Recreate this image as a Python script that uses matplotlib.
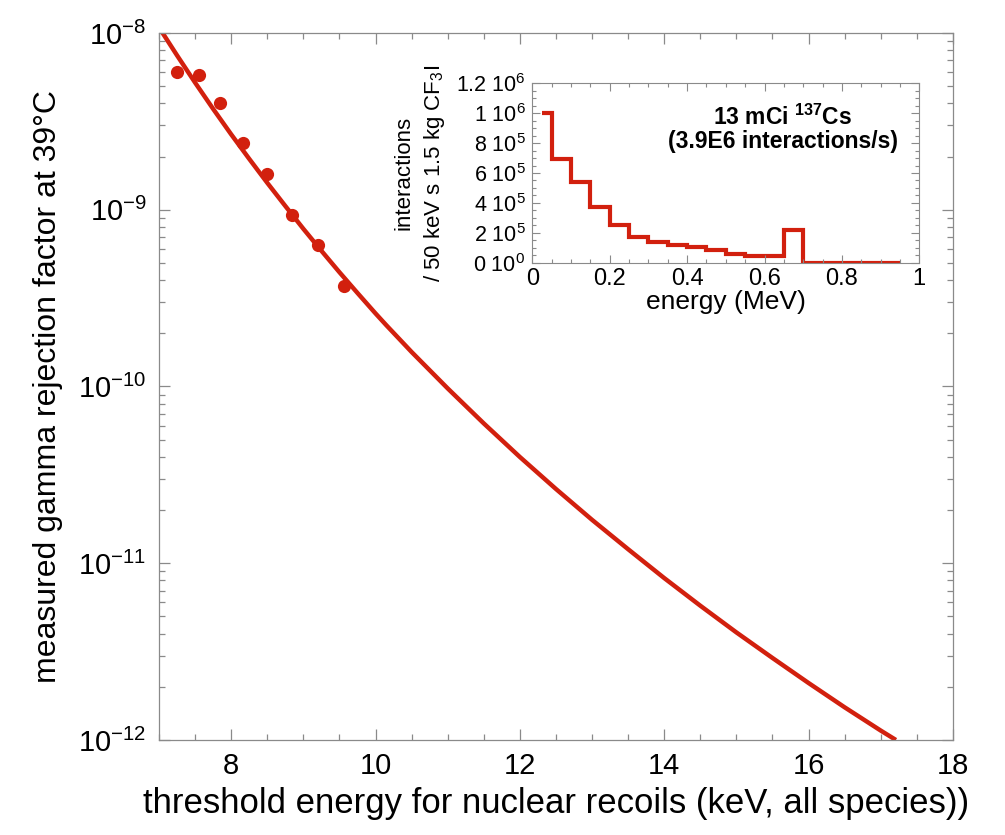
import numpy as np
import matplotlib
matplotlib.use("Agg")
import matplotlib.pyplot as plt
from matplotlib.ticker import MultipleLocator, FixedLocator, LogLocator, NullFormatter

plt.rcParams["font.family"] = ["Liberation Sans", "DejaVu Sans"]
plt.rcParams["mathtext.default"] = "regular"
plt.rcParams["axes.unicode_minus"] = False

# ----------------------------
# Data
# ----------------------------
# measured gamma rejection points
pointEnergy = [7.25, 7.55, 7.85, 8.17, 8.49, 8.84, 9.20, 9.57]
pointRejection = [6.0e-9, 5.8e-9, 4.0e-9, 2.38e-9, 1.60e-9, 9.3e-10, 6.3e-10, 3.7e-10]

# fitted / extrapolated curve
curveEnergy = [7.05, 7.25, 7.5, 7.75, 8.0, 8.25, 8.5, 8.75, 9.0, 9.25, 9.5, 9.75, 10.0, 10.15,
               10.5, 11.0, 11.5, 12.0, 12.5, 13.0, 13.5, 14.0, 14.5, 15.0, 15.5, 16.0, 16.5,
               17.0, 17.21]
curveRejection = [1.0e-8, 7.47e-9, 5.24e-9, 3.72e-9, 2.67e-9, 1.94e-9, 1.42e-9, 1.05e-9,
                  7.8e-10, 5.86e-10, 4.43e-10, 3.38e-10, 2.59e-10, 2.22e-10,
                  1.567e-10, 9.75e-11, 6.18e-11, 3.99e-11, 2.63e-11, 1.76e-11, 1.20e-11,
                  8.24e-12, 5.75e-12, 4.06e-12, 2.91e-12, 2.10e-12, 1.53e-12, 1.13e-12, 1.0e-12]

# inset: 137Cs interaction spectrum (50 keV bins)
binEdges = [0.025, 0.05, 0.10, 0.15, 0.20, 0.25, 0.30, 0.35, 0.40, 0.45, 0.50, 0.55, 0.60, 0.65, 0.70, 0.95]
binCounts = [1.0e6, 6.96e5, 5.42e5, 3.75e5, 2.5e5, 1.72e5, 1.40e5, 1.20e5, 1.04e5, 8.8e4,
             5.7e4, 4.2e4, 4.2e4, 2.17e5, 0.0]

mainTicks = [1e-12, 1e-11, 1e-10, 1e-9, 1e-8]
mainTickLabels = ["$10^{-12}$", "$10^{-11}$", "$10^{-10}$", "$10^{-9}$", "$10^{-8}$"]
insetTicks = [0, 2e5, 4e5, 6e5, 8e5, 1e6, 1.2e6]
insetTickLabels = ["0 $10^{0}$", "2 $10^{5}$", "4 $10^{5}$", "6 $10^{5}$",
                   "8 $10^{5}$", "1 $10^{6}$", "1.2 $10^{6}$"]

red = "#d2200e"
spineGray = "#8a8a8a"

fig = plt.figure(figsize=(10.05, 8.35), dpi=100)

# ----------------------------
# Main panel
# ----------------------------
ax = fig.add_axes([0.1582, 0.1138, 0.7900, 0.8467])
ax.set_yscale("log")
ax.plot(curveEnergy, curveRejection, color=red, linewidth=3.2, solid_capstyle="butt",
        solid_joinstyle="round")
ax.plot(pointEnergy, pointRejection, "o", color=red, markersize=9.5, markeredgewidth=0)
ax.set_xlim(7, 18)
ax.set_ylim(1e-12, 1e-8)

ax.xaxis.set_major_locator(MultipleLocator(2))
ax.xaxis.set_minor_locator(MultipleLocator(0.5))
ax.yaxis.set_major_locator(FixedLocator(mainTicks))
ax.set_yticklabels(mainTickLabels)
ax.yaxis.set_minor_locator(LogLocator(base=10, subs=np.arange(2, 10)))
ax.yaxis.set_minor_formatter(NullFormatter())

ax.tick_params(which="both", direction="in", top=True, right=True, color=spineGray, width=0.9)
ax.tick_params(which="major", length=8, labelsize=21, pad=9)
ax.tick_params(which="minor", length=4)
for sp in ax.spines.values():
    sp.set_color(spineGray)
    sp.set_linewidth(0.9)

ax.set_xlabel("threshold energy for nuclear recoils (keV, all species))", fontsize=25, labelpad=5)
ax.set_ylabel("measured gamma rejection factor at 39°C", fontsize=23, labelpad=11)

# ----------------------------
# Inset: Cs-137 spectrum
# ----------------------------
axIn = fig.add_axes([0.5297, 0.6854, 0.3850, 0.2148])
axIn.stairs(binCounts, binEdges, baseline=None, color=red, linewidth=3.0)
axIn.set_xlim(0, 1)
axIn.set_ylim(0, 1.2e6)
axIn.xaxis.set_minor_locator(MultipleLocator(0.05))
axIn.set_xticks([0, 0.2, 0.4, 0.6, 0.8, 1.0])
axIn.set_xticklabels(["0", "0.2", "0.4", "0.6", "0.8", "1"])
axIn.yaxis.set_major_locator(FixedLocator(insetTicks))
axIn.set_yticklabels(insetTickLabels)
axIn.yaxis.set_minor_locator(MultipleLocator(5e4))

axIn.tick_params(which="both", direction="in", top=True, right=True, color=spineGray, width=0.8)
axIn.tick_params(which="major", length=6, pad=5)
axIn.tick_params(axis="x", which="major", labelsize=17, pad=4)
axIn.tick_params(axis="y", which="major", labelsize=15.5)
axIn.tick_params(which="minor", length=3)
for sp in axIn.spines.values():
    sp.set_color(spineGray)
    sp.set_linewidth(0.8)

axIn.set_xlabel("energy (MeV)", fontsize=19, labelpad=0)
axIn.set_ylabel("interactions\n/ 50 keV s 1.5 kg CF$_{3}$I", fontsize=16, labelpad=6, linespacing=1.45)

axIn.text(0.648, 0.97e6, "13 mCi $^{137}$Cs", fontsize=16.5, fontweight="bold", ha="center", va="center")
axIn.text(0.648, 0.81e6, "(3.9E6 interactions/s)", fontsize=16.5, fontweight="bold", ha="center", va="center")

fig.savefig("out.png", dpi=100)
